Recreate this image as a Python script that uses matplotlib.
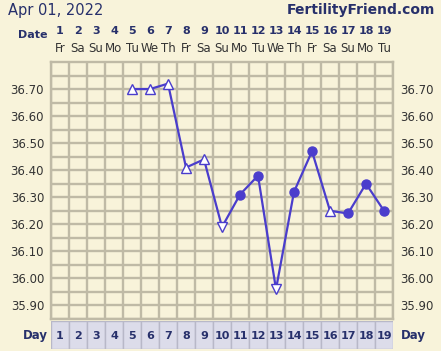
import numpy as np
import matplotlib.pyplot as plt

# chart data
days = list(range(1, 20))
weekdays = ['Fr', 'Sa', 'Su', 'Mo', 'Tu', 'We', 'Th', 'Fr', 'Sa', 'Su',
            'Mo', 'Tu', 'We', 'Th', 'Fr', 'Sa', 'Su', 'Mo', 'Tu']
temp_days = [5, 6, 7, 8, 9, 10, 11, 12, 13, 14, 15, 16, 17, 18, 19]
temps = [36.70, 36.70, 36.72, 36.41, 36.44, 36.19, 36.31, 36.38, 35.96,
         36.32, 36.47, 36.25, 36.24, 36.35, 36.25]
# marker type per point: 'up' open triangle, 'down' open triangle, 'dot' filled
kinds = ['up', 'up', 'up', 'up', 'up', 'down', 'dot', 'dot', 'down',
         'dot', 'dot', 'up', 'dot', 'dot', 'dot']
ytick_vals = [35.90, 36.00, 36.10, 36.20, 36.30, 36.40, 36.50, 36.60, 36.70]
title_left = 'Apr 01, 2022'
title_right = 'FertilityFriend.com'

bg = '#f8f3da'
gridc = '#bfbaa6'
navy = '#27306b'
linec = '#4a3dcc'
txtc = '#333333'

fig = plt.figure(figsize=(4.41, 3.51), dpi=100)
fig.patch.set_facecolor(bg)

ax = fig.add_axes([51/441, 1 - 319/351, 342/441, 257/351])
ax.set_facecolor(bg)
ax.set_xlim(0.5, 19.5)
ax.set_ylim(35.85, 36.80)

ax.set_xticks(np.arange(0.5, 20, 1))
ax.set_xticklabels([])
ax.set_yticks(ytick_vals)
ax.set_yticks(np.arange(35.85, 36.80, 0.1), minor=True)
ax.set_yticklabels(['%.2f' % v for v in ytick_vals])
ax.tick_params(axis='both', which='both', length=0)
ax.tick_params(axis='y', labelsize=8.5, labelcolor=txtc, labelleft=True, labelright=True, pad=5)
ax.grid(True, which='both', color=gridc, linewidth=1.7)
for s in ax.spines.values():
    s.set_color(gridc)
    s.set_linewidth(1.7)
ax.set_axisbelow(True)

ax.plot(temp_days, temps, color=linec, linewidth=1.6, zorder=3)
for d, t, k in zip(temp_days, temps, kinds):
    if k == 'dot':
        ax.plot(d, t, 'o', color=linec, markersize=6.5, zorder=4)
    elif k == 'up':
        ax.plot(d, t, '^', markerfacecolor='white', markeredgecolor=linec,
                markersize=7, markeredgewidth=1, zorder=4)
    else:
        ax.plot(d, t, 'v', markerfacecolor='white', markeredgecolor=linec,
                markersize=7, markeredgewidth=1, zorder=4)

# header
fig.text(8/441, 1 - 10/351, title_left, fontsize=10.5, color=navy, va='center', ha='left')
fig.text(435/441, 1 - 10/351, title_right, fontsize=10, color=navy, va='center', ha='right',
         fontweight='bold')

# date rows above the grid
trans = ax.get_xaxis_transform()
fig.text(33/441, 1 - 35/351, 'Date', fontsize=8, color=navy, fontweight='bold',
         va='center', ha='center')
for d, w in zip(days, weekdays):
    ax.text(d, 1 + 31/257, str(d), transform=trans, fontsize=8, color=navy,
            fontweight='bold', ha='center', va='center')
    ax.text(d, 1 + 13/257, w, transform=trans, fontsize=8.5, color=txtc,
            ha='center', va='center')

# day row at the bottom
ax2 = fig.add_axes([51/441, 1 - 349/351, 342/441, 28/351])
ax2.set_xlim(0.5, 19.5)
ax2.set_ylim(0, 1)
ax2.axis('off')
for d in days:
    ax2.add_patch(plt.Rectangle((d - 0.5, 0), 1, 1, facecolor='#dcdcea',
                                edgecolor='#b8b8c8', linewidth=1))
    ax2.text(d, 0.45, str(d), fontsize=8, color=navy, fontweight='bold',
             ha='center', va='center')
fig.text(35/441, 1 - 336/351, 'Day', fontsize=8.5, color=navy, fontweight='bold',
         va='center', ha='center')
fig.text(413/441, 1 - 336/351, 'Day', fontsize=8.5, color=navy, fontweight='bold',
         va='center', ha='center')

fig.savefig('out.png', dpi=100, facecolor=bg)
